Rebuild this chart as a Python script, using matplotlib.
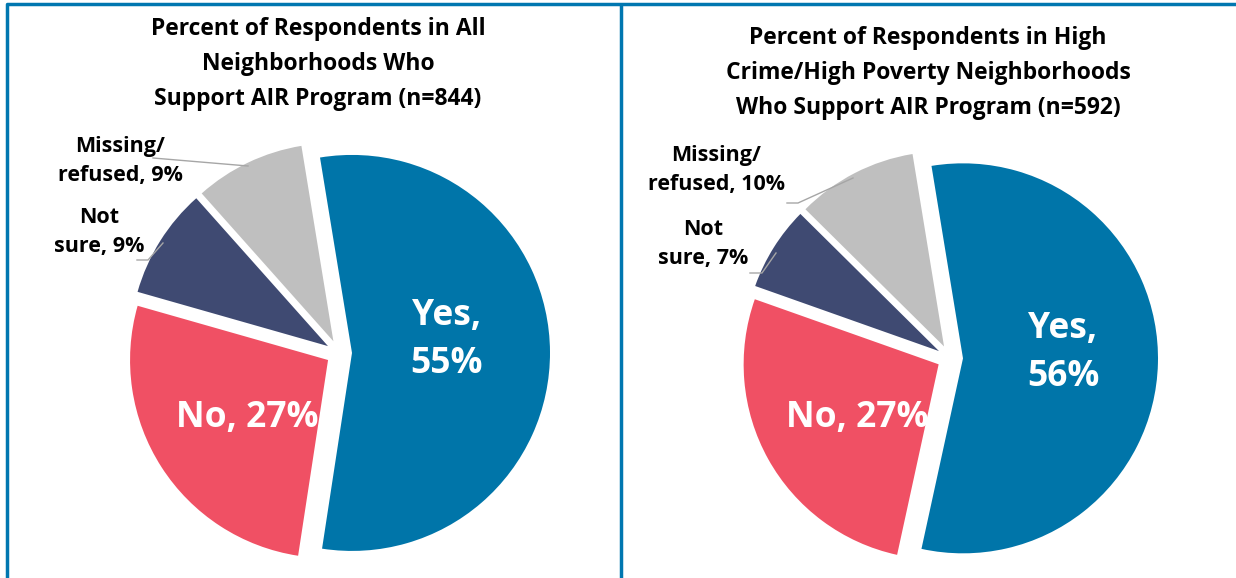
import matplotlib.pyplot as plt

# support for the AIR program, two samples
categories = ['Yes', 'No', 'Not sure', 'Missing/refused']
all_pct = [55, 27, 9, 9]
high_pct = [56, 27, 7, 10]
all_title = 'Percent of Respondents in All\nNeighborhoods Who\nSupport AIR Program (n=844)'
high_title = 'Percent of Respondents in High\nCrime/High Poverty Neighborhoods\nWho Support AIR Program (n=592)'

colors = ['#0075A9', '#F05064', '#3F4A72', '#BFBFBF']
FONT = 'Open Sans'
W, H = 1236, 578

fig = plt.figure(figsize=(W / 100, H / 100), dpi=100)
ax = fig.add_axes([0, 0, 1, 1])


def draw_pie(vals, cx, cy, r, title, tx, ty):
    # y given top-down, convert to axes coords
    wedges, _ = ax.pie(vals, startangle=99.3, counterclock=False, colors=colors,
                       explode=[13] * len(vals), radius=r, center=(cx, H - cy),
                       wedgeprops=dict(linewidth=0))
    ax.text(tx, H - ty, title, ha='center', va='center', fontsize=16.5,
            fontweight='bold', family=FONT, linespacing=1.6)
    return wedges


draw_pie(all_pct, 339, 353, 198, all_title, 318, 64)
draw_pie(high_pct, 950, 358, 195, high_title, 928, 73)

big = dict(ha='center', va='center', color='white', fontsize=25.5,
           fontweight='bold', family=FONT, linespacing=1.45)
small = dict(ha='center', va='center', color='black', fontsize=15.5,
             fontweight='bold', family=FONT, linespacing=1.55)

ax.text(447, H - 340, f'{categories[0]},\n{all_pct[0]}%', **big)
ax.text(247, H - 418, f'{categories[1]}, {all_pct[1]}%', **big)
ax.text(120, H - 161, f'Missing/\nrefused, {all_pct[3]}%', **small)
ax.text(99, H - 232, f'Not\nsure, {all_pct[2]}%', **small)

ax.text(1063, H - 353, f'{categories[0]},\n{high_pct[0]}%', **big)
ax.text(857, H - 418, f'{categories[1]}, {high_pct[1]}%', **big)
ax.text(716, H - 170, f'Missing/\nrefused, {high_pct[3]}%', **small)
ax.text(703, H - 244, f'Not\nsure, {high_pct[2]}%', **small)

# leader lines
lc = '#A6A6A6'
ax.plot([153, 248], [H - 158, H - 166], color=lc, lw=1)
ax.plot([137, 148, 163], [H - 260, H - 260, H - 243], color=lc, lw=1)
ax.plot([787, 798, 853], [H - 203, H - 203, H - 178], color=lc, lw=1)
ax.plot([750, 762, 776], [H - 273, H - 273, H - 253], color=lc, lw=1)

# panel frame
bc = '#0077B0'
ax.plot([7, 7, W], [0, H - 4, H - 4], color=bc, lw=2.5, solid_capstyle='butt')
ax.plot([621, 621], [0, H - 4], color=bc, lw=2.5, solid_capstyle='butt')

ax.set_xlim(0, W)
ax.set_ylim(0, H)
ax.set_aspect('auto')
ax.axis('off')

fig.savefig('out.png', dpi=100)
